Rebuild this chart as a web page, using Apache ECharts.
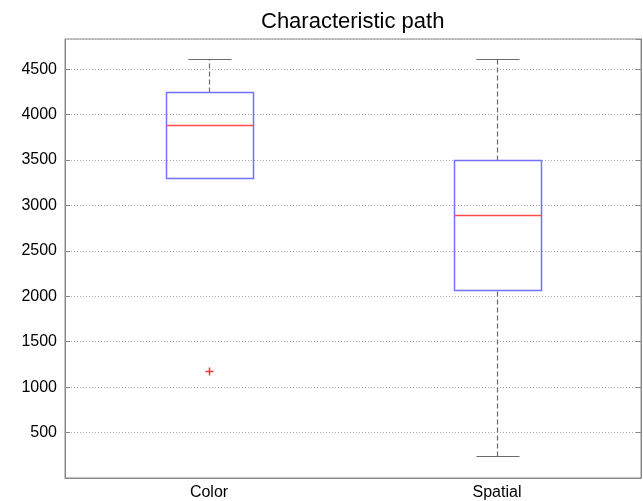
<!DOCTYPE html>
<html>
<head>
<meta charset="utf-8">
<script src="https://cdn.jsdelivr.net/npm/echarts@6/dist/echarts.min.js"></script>
<style>
  html, body { margin: 0; padding: 0; background: #ffffff; }
  #chart { width: 643px; height: 501px; }
</style>
</head>
<body>
<div id="chart"></div>
<script>
// Box-plot summary per group
const categories   = ['Color', 'Spatial'];
const whiskerLow   = [3306, 240];
const quartile1    = [3306, 2067];
const medians      = [3883, 2899];
const quartile3    = [4253, 3501];
const whiskerHigh  = [4616, 4616];
// Outliers as [group index, value]
const outlierPoints = [[0, 1179]];

const yMin = 0;
const yMax = 4833;
const yStep = 500;

const FONT = "'Liberation Sans', Arial, sans-serif";
const BOX_COLOR = '#7272ff';
const MEDIAN_COLOR = '#ff4d4d';
const WHISKER_COLOR = '#6a6a6a';

const boxData = categories.map((c, i) =>
  [i, whiskerLow[i], quartile1[i], medians[i], quartile3[i], whiskerHigh[i]]);

const px = v => Math.round(v) + 0.5;

function renderBox(params, api) {
  const i = api.value(0);
  const band = api.size([1, 0])[0];
  const boxW = band * 0.3;
  const capW = boxW * 0.5;
  const cx = px(api.coord([i, 0])[0]);
  const yLow = px(api.coord([i, api.value(1)])[1]);
  const yQ1  = px(api.coord([i, api.value(2)])[1]);
  const yMed = px(api.coord([i, api.value(3)])[1]);
  const yQ3  = px(api.coord([i, api.value(4)])[1]);
  const yHigh= px(api.coord([i, api.value(5)])[1]);
  const x0 = px(cx - boxW / 2), x1 = px(cx + boxW / 2);
  const dashed = { stroke: WHISKER_COLOR, fill: null, lineWidth: 1.2, lineDash: [5, 3] };
  const solid = { stroke: WHISKER_COLOR, fill: null, lineWidth: 1.2 };
  const children = [
    { type: 'line', shape: { x1: cx, y1: yQ3, x2: cx, y2: yHigh }, style: dashed },
    { type: 'line', shape: { x1: cx, y1: yLow, x2: cx, y2: yQ1 }, style: dashed },
    { type: 'line', shape: { x1: px(cx - capW / 2), y1: yHigh, x2: px(cx + capW / 2), y2: yHigh }, style: solid },
    { type: 'line', shape: { x1: px(cx - capW / 2), y1: yLow, x2: px(cx + capW / 2), y2: yLow }, style: solid },
    { type: 'rect', shape: { x: x0, y: yQ3, width: x1 - x0, height: yQ1 - yQ3 },
      style: { fill: null, stroke: BOX_COLOR, lineWidth: 1.5 } },
    { type: 'line', shape: { x1: x0, y1: yMed, x2: x1, y2: yMed },
      style: { fill: null, stroke: MEDIAN_COLOR, lineWidth: 1.5 } }
  ];
  return { type: 'group', children };
}

function renderOutlier(params, api) {
  const p = api.coord([api.value(0), api.value(1)]);
  const x = px(p[0]), y = px(p[1]), h = 4;
  const st = { fill: null, stroke: '#ff3030', lineWidth: 1.5 };
  return {
    type: 'group',
    children: [
      { type: 'line', shape: { x1: x - h, y1: y, x2: x + h, y2: y }, style: st },
      { type: 'line', shape: { x1: x, y1: y - h, x2: x, y2: y + h }, style: st }
    ]
  };
}

const chart = echarts.init(document.getElementById('chart'), null, { renderer: 'canvas' });

const yAxisCommon = {
  type: 'value',
  min: yMin,
  max: yMax,
  interval: yStep,
  axisLine: { show: true, lineStyle: { color: '#888888', width: 1 } },
  axisTick: { show: true, inside: true, length: 5, lineStyle: { color: '#888888' } }
};

chart.setOption({
  animation: false,
  backgroundColor: '#ffffff',
  title: {
    text: 'Characteristic path',
    left: 256,
    top: 6,
    textStyle: { fontFamily: FONT, fontSize: 22, fontWeight: 'normal', color: '#000000' }
  },
  grid: {
    left: 65, right: 2, top: 39, bottom: 23,
    show: true, borderColor: '#888888', borderWidth: 1, backgroundColor: 'transparent'
  },
  xAxis: {
    type: 'category',
    data: categories,
    boundaryGap: true,
    axisLine: { show: true, lineStyle: { color: '#888888', width: 1 } },
    axisTick: { show: false },
    axisLabel: { fontFamily: FONT, fontSize: 16, color: '#000000', margin: 7 },
    splitLine: { show: false }
  },
  yAxis: [
    Object.assign({}, yAxisCommon, {
      position: 'left',
      axisLabel: { fontFamily: FONT, fontSize: 16, color: '#000000', margin: 8,
                   showMinLabel: false, showMaxLabel: false,
                   formatter: v => String(v) },
      splitLine: { show: true, lineStyle: { color: '#aaaaaa', type: [1, 2], width: 1 } }
    }),
    Object.assign({}, yAxisCommon, {
      position: 'right',
      axisLabel: { show: false },
      splitLine: { show: false }
    })
  ],
  series: [
    {
      type: 'custom',
      name: 'boxes',
      renderItem: renderBox,
      encode: { x: 0, y: [1, 2, 3, 4, 5] },
      data: boxData,
      z: 3
    },
    {
      type: 'custom',
      name: 'outliers',
      renderItem: renderOutlier,
      encode: { x: 0, y: 1 },
      data: outlierPoints,
      z: 4
    }
  ]
});
</script>
</body>
</html>
